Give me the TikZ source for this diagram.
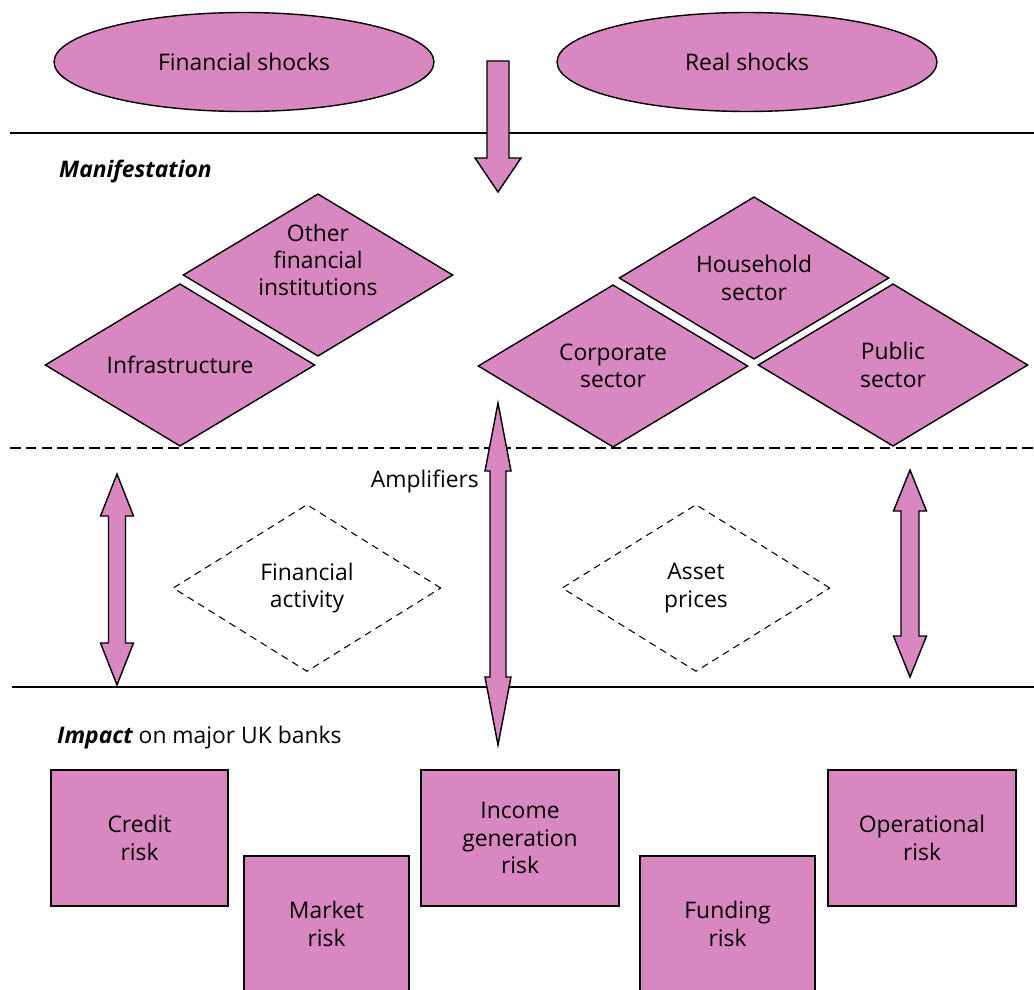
\documentclass[tikz,border=0pt]{standalone}
\usepackage{fontspec}
\setmainfont{Open Sans}
\usetikzlibrary{shapes.geometric}
\definecolor{riskpink}{RGB}{217,135,192}

\begin{document}
\begin{tikzpicture}[x=0.02cm, y=-0.02cm,
    every node/.style={font=\fontsize{13}{15.5}\selectfont},
    shock/.style={ellipse, draw, line width=0.8pt, fill=riskpink, inner sep=0pt, minimum width=7.6cm, minimum height=1.98cm},
    sector/.style={diamond, draw, line width=0.8pt, fill=riskpink, aspect=1.65, inner sep=0pt, align=center, minimum width=5.4cm, minimum height=3.25cm},
    amplifier/.style={diamond, draw, line width=0.6pt, dash pattern=on 4pt off 3pt, aspect=1.6, inner sep=0pt, align=center, minimum width=5.36cm, minimum height=3.34cm},
    riskbox/.style={rectangle, draw, line width=0.8pt, fill=riskpink, align=center, minimum height=2.72cm},
    fatarrow/.style={draw, line width=0.8pt, fill=riskpink, line join=miter},
    band/.style={line width=1pt},
    heading/.style={anchor=west}
]
    \clip (0,0) rectangle (1034,990);

    % band lines
    \draw[band] (10,133) -- (1034,133);
    \draw[band, dash pattern=on 6pt off 3pt] (10,448) -- (1034,448);
    \draw[band] (12,687) -- (1034,687);

    % shocks
    \node[shock] (fin) at (244,62) {Financial shocks};
    \node[shock] (real) at (747,62) {Real shocks};

    % manifestation
    \node[heading] (manif) at (53,172) {\bfseries\itshape Manifestation};
    \node[sector] (ofi) at (318,275) {};
    \node[align=center] (ofi-text) at (318,260) {Other\\financial\\institutions};
    \node[sector] (infra) at (180,365) {Infrastructure};
    \node[sector] (house) at (754,278) {Household\\sector};
    \node[sector] (corp) at (613,366) {Corporate\\sector};
    \node[sector] (public) at (893,365) {Public\\sector};

    % amplifiers
    \node[amplifier] (finact) at (307,588) {Financial\\activity};
    \node[amplifier] (assets) at (696,588) {Asset\\prices};
    \node[anchor=east] (ampl) at (485,481) {Amplifiers};

    % shock arrow
    \draw[fatarrow] (487,61) -- (509,61) -- (509,158) -- (521,158) -- (498,192) -- (475,158) -- (487,158) -- cycle;

    % two-way arrows
    \foreach \x/\t/\b/\s/\h/\l in {117/474/685/8.5/16.5/42, 498/403/745/8/13/68, 910/470/677/9/16.5/41} {
        \draw[fatarrow] (\x,\t) -- (\x+\h,\t+\l) -- (\x+\s,\t+\l) -- (\x+\s,\b-\l) -- (\x+\h,\b-\l)
            -- (\x,\b) -- (\x-\h,\b-\l) -- (\x-\s,\b-\l) -- (\x-\s,\t+\l) -- (\x-\h,\t+\l) -- cycle;
    }

    % impact
    \node[heading] (impact) at (51,738) {{\bfseries\itshape Impact} on major UK banks};
    \foreach \name/\x/\y/\w/\txt in {credit/139.5/838/3.54/{Credit\\risk}, market/326.5/924/3.3/{Market\\risk},
        income/520/838/3.96/{Income\\generation\\risk}, funding/727.5/924/3.5/{Funding\\risk},
        oper/922/838/3.76/{Operational\\risk}}
        \node[riskbox, minimum width=\w cm] (\name) at (\x,\y) {\txt};
\end{tikzpicture}
\end{document}
